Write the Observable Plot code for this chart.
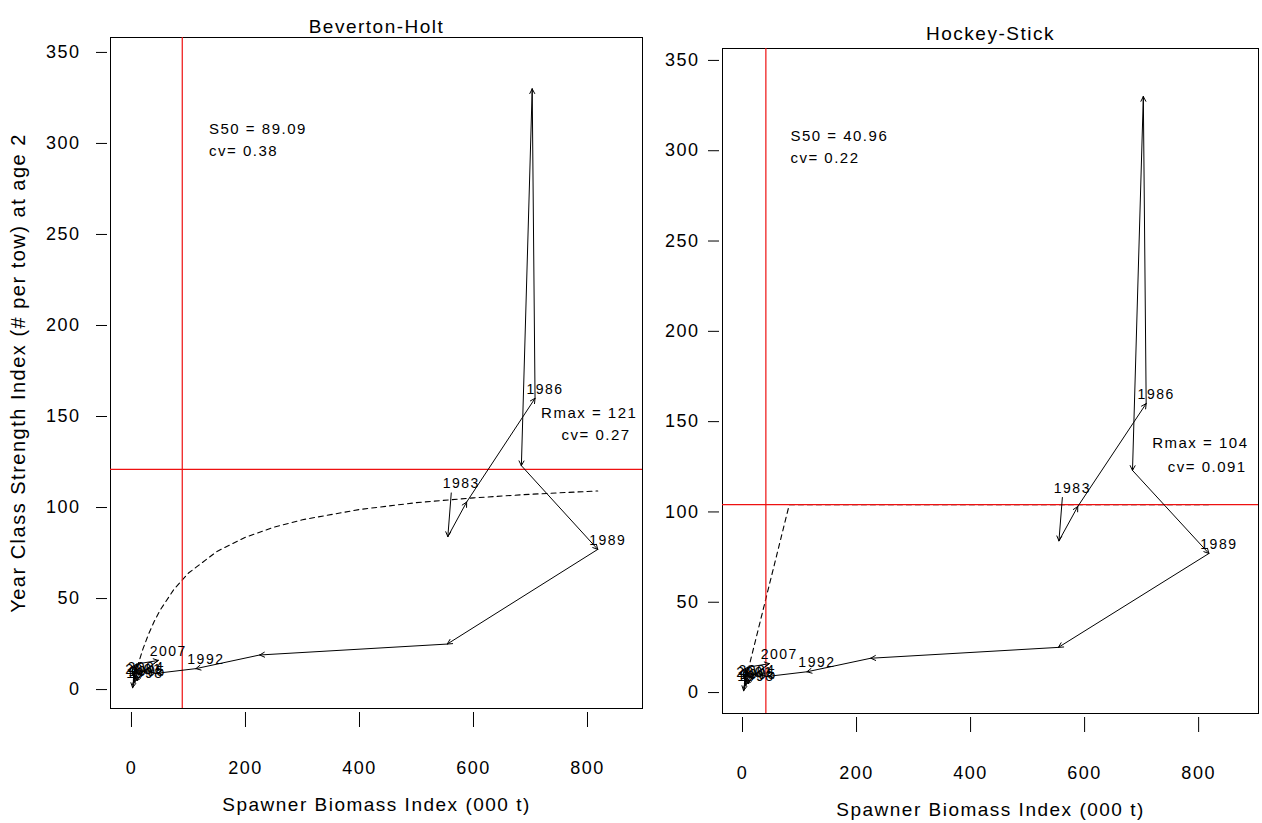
<!DOCTYPE html>
<html>
<head>
<meta charset="utf-8">
<script src="https://cdn.jsdelivr.net/npm/d3@7"></script>
<script src="https://cdn.jsdelivr.net/npm/@observablehq/plot@0.6"></script>
<style>
  body { margin: 0; background: #fff; }
  #chart { position: relative; width: 1262px; height: 823px; overflow: hidden; background: #fff; }
  #chart svg { position: absolute; top: 0; }
</style>
</head>
<body>
<div id="chart"></div>
<script>
// Stock–recruitment trajectory: spawner biomass (000 t) vs year-class strength at age 2
const years = [1983, 1984, 1985, 1986, 1987, 1988, 1989, 1990, 1991, 1992, 1993, 1994, 1995,
               1996, 1997, 1998, 1999, 2000, 2001, 2002, 2003, 2004, 2005, 2006, 2007, 2008];
const ssb = [561, 555, 588, 708, 703, 684, 818, 554, 225, 113, 46, 20, 10,
             8, 3, 6, 5, 12, 4, 7, 2, 8, 1, 9, 47, 12];
const rec = [108, 84, 103, 160, 330, 123, 77, 25, 19, 11.5, 9, 10, 5,
             12, 8, 4, 13, 9, 6, 11, 1, 7, 10, 14, 16, 8];
const labelYears = [1983, 1986, 1989, 1992, 1995, 1998, 2001, 2004, 2007];

// Fitted curves (dashed)
const bhS = [2, 5, 10, 20, 30, 40, 50, 75, 100, 150, 200, 250, 300, 400, 500, 600, 700, 818];
const bhR = [2.7, 6.4, 12.2, 22.2, 30.5, 37.5, 43.5, 55.3, 64.0, 75.9, 83.7, 89.2, 93.3, 98.9, 102.7, 105.3, 107.3, 109.1];
const hsS = [2, 82, 818];
const hsR = [2.5, 104, 104];

// Model parameters per panel
const titles = ["Beverton-Holt", "Hockey-Stick"];
const s50 = [89.09, 40.96];
const s50cv = ["0.38", "0.22"];
const rmax = [121, 104];
const rmaxcv = ["0.27", "0.091"];

const xTicks = [0, 200, 400, 600, 800];
const yTicks = [0, 50, 100, 150, 200, 250, 300, 350];
const xTitle = "Spawner Biomass Index (000 t)";
const yTitle = "Year Class Strength Index (# per tow) at age 2";

const traj = years.map((year, i) => ({year, s: ssb[i], r: rec[i]}));
const segs = traj.slice(0, -1).map((d, i) => ({x1: d.s, y1: d.r, x2: traj[i + 1].s, y2: traj[i + 1].r}));
const labelled = traj.filter(d => labelYears.includes(d.year));
const curves = [
  bhS.map((s, i) => ({s, r: bhR[i]})),
  hsS.map((s, i) => ({s, r: hsR[i]}))
];

const FONT = "'Liberation Sans', Arial, sans-serif";

// Panel geometry (pixel frame of each plot)
const layout = [
  {left: 0, width: 646, ml: 110, mr: 4, mt: 37, mb: 115, xdom: [-36.8, 896.5], ydom: [-10.4, 358.2],
   yPad: 16, titleDy: -5, noteX: 136, rmaxY: [152, 140]},
  {left: 640, width: 622, ml: 82, mr: 4, mt: 48, mb: 110, xdom: [-35.1, 905], ydom: [-11.6, 356.6],
   yPad: 9, titleDy: -9, noteX: 84, rmaxY: [138, 125]}
];

const chart = document.getElementById("chart");

layout.forEach((L, p) => {
  const marks = [
    Plot.frame({stroke: "black", strokeWidth: 1}),
    Plot.axisX(xTicks, {tickSize: 15, tickPadding: 34, fontSize: 18, dy: 4, label: null, tickFormat: d => String(d)}),
    Plot.axisY(yTicks, {tickSize: 11, tickPadding: L.yPad, fontSize: 18, dx: -3, label: null, tickFormat: d => String(d)}),
    Plot.line(curves[p], {x: "s", y: "r", stroke: "black", strokeWidth: 1.1, strokeDasharray: "5,4"}),
    Plot.ruleX([s50[p]], {stroke: "#ee1111", strokeWidth: 1.2}),
    Plot.ruleY([rmax[p]], {stroke: "#ee1111", strokeWidth: 1.2}),
    Plot.arrow(segs, {x1: "x1", y1: "y1", x2: "x2", y2: "y2", stroke: "black", strokeWidth: 1, headLength: 8, headAngle: 55}),
    Plot.text(labelled, {x: "s", y: "r", text: d => String(d.year), dx: 10, dy: -9, fontSize: 14, fill: "black", stroke: "none"}),
    Plot.text([`S50 = ${s50[p]}`], {x: L.noteX, y: 308, text: d => d, textAnchor: "start", fontSize: 15}),
    Plot.text([`cv= ${s50cv[p]}`], {x: L.noteX, y: 296, text: d => d, textAnchor: "start", fontSize: 15}),
    Plot.text([`Rmax = ${rmax[p]}`], {x: 803, y: L.rmaxY[0], text: d => d, fontSize: 15}),
    Plot.text([`cv= ${rmaxcv[p]}`], {x: 815, y: L.rmaxY[1], text: d => d, fontSize: 15}),
    Plot.text([titles[p]], {frameAnchor: "top", text: d => d, dy: L.titleDy, lineAnchor: "bottom", fontSize: 19, letterSpacing: "1.6px"}),
    Plot.text([xTitle], {frameAnchor: "bottom", text: d => d, dy: 102, fontSize: 19, letterSpacing: "1.9px"})
  ];
  if (p === 0) {
    marks.push(Plot.text([yTitle], {frameAnchor: "left", textAnchor: "middle", text: d => d, rotate: -90, dx: -92,
                                    fontSize: 20, letterSpacing: "3.4px"}));
  }
  const svg = Plot.plot({
    width: L.width,
    height: 823,
    marginLeft: L.ml,
    marginRight: L.mr,
    marginTop: L.mt,
    marginBottom: L.mb,
    style: {fontFamily: FONT, background: "transparent", color: "black", letterSpacing: "1.5px"},
    x: {domain: L.xdom},
    y: {domain: L.ydom},
    marks
  });
  svg.style.left = L.left + "px";
  chart.appendChild(svg);
});
</script>
</body>
</html>
